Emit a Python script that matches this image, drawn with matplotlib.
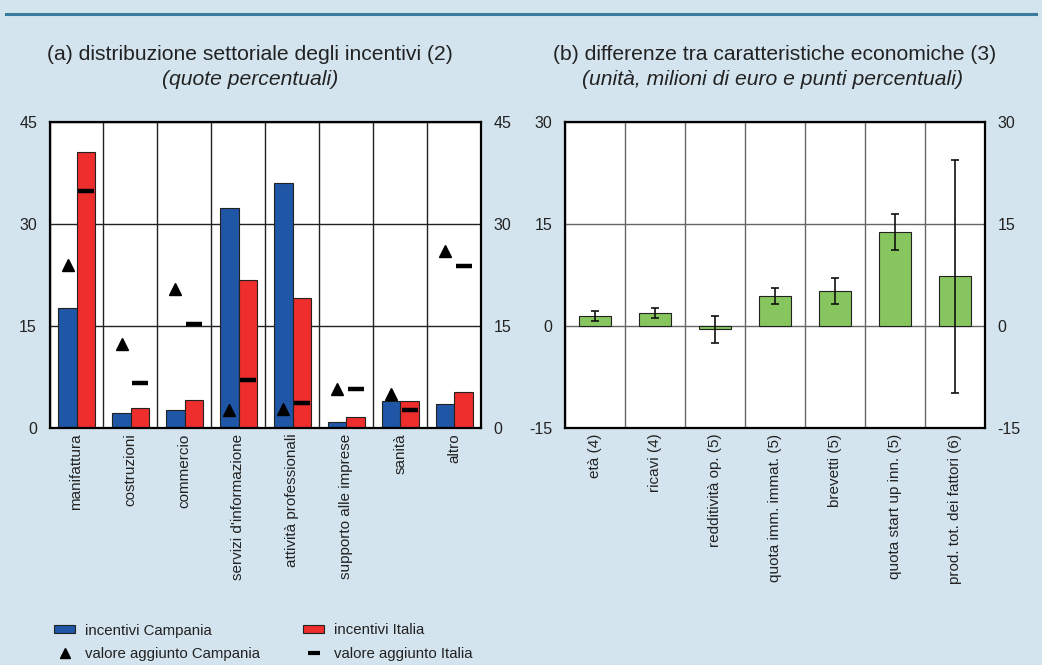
import matplotlib
matplotlib.use("Agg")
import matplotlib.pyplot as plt
import numpy as np
from matplotlib.lines import Line2D
from matplotlib.patches import Patch

plt.rcParams['font.family'] = ['Liberation Sans', 'DejaVu Sans']
plt.rcParams['axes.unicode_minus'] = False

# ---- data panel (a)
sectors = ["manifattura", "costruzioni", "commercio", "servizi d'informazione",
           "attività professionali", "supporto alle imprese", "sanità", "altro"]
inc_campania = [17.7, 2.25, 2.7, 32.3, 36.0, 0.95, 4.0, 3.5]
inc_italia = [40.6, 3.0, 4.1, 21.8, 19.1, 1.6, 3.9, 5.3]
va_campania = [24.0, 12.4, 20.5, 2.7, 2.8, 5.7, 5.0, 26.1]
va_italia = [34.8, 6.6, 15.3, 7.0, 3.7, 5.8, 2.7, 23.8]
yticks_a = [0, 15, 30, 45]

# ---- data panel (b)
features = ["età (4)", "ricavi (4)", "redditività op. (5)", "quota imm. immat. (5)",
            "brevetti (5)", "quota start up inn. (5)", "prod. tot. dei fattori (6)"]
diff = [1.5, 1.95, -0.5, 4.45, 5.2, 13.85, 7.3]
err = [0.75, 0.7, 2.0, 1.17, 1.9, 2.6, 17.1]
yticks_b = [-15, 0, 15, 30]

BG = '#d3e4ee'
BLUE = '#1f56a6'
RED = '#ee2d2d'
GREEN = '#87c55f'
TXT = '#222222'

W, H = 1042, 665
fig = plt.figure(figsize=(W / 100, H / 100), dpi=100, facecolor=BG)

def px(x0, y0, x1, y1):
    return [x0 / W, 1 - y1 / H, (x1 - x0) / W, (y1 - y0) / H]

# top rule
fig.add_artist(Line2D([6 / W, 1036 / W], [1 - 13.5 / H, 1 - 13.5 / H],
                      color='#3a7a9c', lw=2.2, transform=fig.transFigure))

TITLE_FS = 15.2

# ---------- panel (a)
ax1 = fig.add_axes(px(49.5, 122, 481, 428))
ax1.set_facecolor('white')
n = len(sectors)
x = np.arange(n)
bw = 0.34
off = 0.006
ax1.bar(x - bw / 2 + off, inc_campania, bw, color=BLUE, edgecolor='#222222', lw=0.8, zorder=3)
ax1.bar(x + bw / 2 + off, inc_italia, bw, color=RED, edgecolor='#222222', lw=0.8, zorder=3)
ax1.plot(x - bw / 2 + off, va_campania, ls='none', marker='^', ms=9, color='black', zorder=4)
ax1.plot(x + bw / 2 + off, va_italia, ls='none', marker='_', ms=11, mew=3.2, color='black', zorder=4)
ax1.set_xlim(-0.5, n - 0.5)
ax1.set_ylim(0, 45)
ax1.set_yticks(yticks_a)
ax1.set_xticks(x)
ax1.set_xticklabels(sectors, rotation=90, va='top', ha='center', fontsize=11, color=TXT)
ax1.set_xticks(np.arange(n + 1) - 0.5, minor=True)
ax1.grid(True, which='minor', axis='x', color='#222222', lw=1.0, zorder=1)
ax1.grid(True, which='major', axis='y', color='#222222', lw=1.0, zorder=1)
ax1.tick_params(axis='x', which='both', length=0, pad=4)
ax1.tick_params(axis='y', length=0, labelsize=11.5, labelright=True, pad=9, labelcolor=TXT)
for s in ax1.spines.values():
    s.set_linewidth(1.6)
    s.set_color('black')
    s.set_zorder(5)

fig.text(250 / W, 1 - 60 / H, "(a) distribuzione settoriale degli incentivi (2)",
         ha='center', va='baseline', fontsize=TITLE_FS, color=TXT)
fig.text(250 / W, 1 - 85 / H, "(quote percentuali)", ha='center', va='baseline',
         fontsize=TITLE_FS, style='italic', color=TXT)

# ---------- panel (b)
ax2 = fig.add_axes(px(565, 122, 985, 428))
ax2.set_facecolor('white')
m = len(features)
xb = np.arange(m)
ax2.bar(xb, diff, 0.52, color=GREEN, edgecolor='#222222', lw=0.8, zorder=3,
        yerr=err, error_kw=dict(ecolor='#111111', elinewidth=1.2, capsize=3, capthick=1.2, zorder=4))
ax2.set_xlim(-0.5, m - 0.5)
ax2.set_ylim(-15, 30)
ax2.set_yticks(yticks_b)
ax2.set_xticks(xb)
ax2.set_xticklabels(features, rotation=90, va='top', ha='center', fontsize=11, color=TXT)
ax2.set_xticks(np.arange(m + 1) - 0.5, minor=True)
ax2.grid(True, which='minor', axis='x', color='#666666', lw=1.0, zorder=1)
ax2.grid(True, which='major', axis='y', color='#666666', lw=1.0, zorder=1)
ax2.tick_params(axis='x', which='both', length=0, pad=4)
ax2.tick_params(axis='y', length=0, labelsize=11.5, labelright=True, pad=9, labelcolor=TXT)
for s in ax2.spines.values():
    s.set_linewidth(1.6)
    s.set_color('black')
    s.set_zorder(5)

fig.text(775 / W, 1 - 60 / H, "(b) differenze tra caratteristiche economiche (3)",
         ha='center', va='baseline', fontsize=TITLE_FS, color=TXT)
fig.text(773 / W, 1 - 85 / H, "(unità, milioni di euro e punti percentuali)", ha='center',
         va='baseline', fontsize=TITLE_FS, style='italic', color=TXT)

# ---------- legend
handles = [Patch(facecolor=BLUE, edgecolor='#222222', lw=0.8),
           Line2D([], [], ls='none', marker='^', ms=7, color='black'),
           Patch(facecolor=RED, edgecolor='#222222', lw=0.8),
           Line2D([], [], ls='none', marker='_', ms=9, mew=3, color='black')]
labels = ["incentivi Campania", "valore aggiunto Campania", "incentivi Italia", "valore aggiunto Italia"]
fig.legend(handles, labels, ncol=2, loc='upper left', bbox_to_anchor=(54 / W, 1 - 623.5 / H),
           frameon=False, fontsize=10.8, handlelength=1.4, handleheight=0.4, handletextpad=0.65,
           columnspacing=2.9, labelspacing=0.62, borderaxespad=0, borderpad=0,
           labelcolor=TXT)

fig.savefig("out.png", dpi=100, facecolor=BG)
